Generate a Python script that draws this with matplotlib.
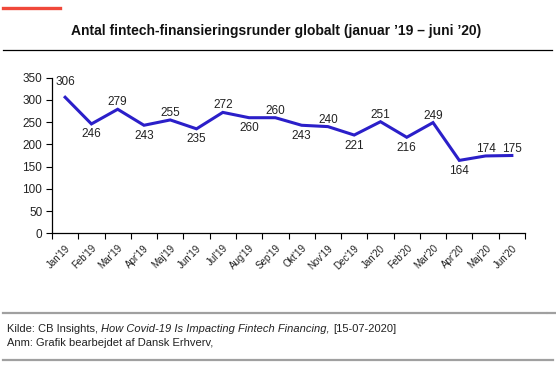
import matplotlib
matplotlib.use("Agg")
import matplotlib.pyplot as plt
from matplotlib.lines import Line2D
from matplotlib.transforms import ScaledTranslation

months = ["Jan'19", "Feb'19", "Mar'19", "Apr'19", "Maj'19", "Jun'19", "Jul'19", "Aug'19",
          "Sep'19", "Okt'19", "Nov'19", "Dec'19", "Jan'20", "Feb'20", "Mar'20", "Apr'20",
          "Maj'20", "Jun'20"]
values = [306, 246, 279, 243, 255, 235, 272, 260, 260, 243, 240, 221, 251, 216, 249, 164, 174, 175]
label_pos = ["top", "down", "up", "down", "up", "down", "up", "down", "up", "down", "up",
             "down", "up", "down", "up", "down", "up", "up"]
yticks = [0, 50, 100, 150, 200, 250, 300, 350]

W, H = 556, 370
plt.rcParams['font.family'] = ['Liberation Sans', 'DejaVu Sans']
fig = plt.figure(figsize=(W / 100, H / 100), dpi=100)
fig.canvas.draw()
r = fig.canvas.get_renderer()

def fx(px):
    return px / W

def fy(py):
    return 1 - py / H

# top red accent line
fig.add_artist(Line2D([fx(3), fx(60)], [fy(8), fy(8)], color="#f0483a", lw=2.4))
# title, fitted to reference width
title = fig.text(fx(276), fy(31.5),
                 "Antal fintech-finansieringsrunder globalt (januar \u201919 \u2013 juni \u201920)",
                 ha="center", va="center", fontsize=10, fontweight="bold", color="#111111")
tw = title.get_window_extent(r).width
title.set_fontsize(10 * 412 / tw)
# black line under title
fig.add_artist(Line2D([fx(3), fx(552)], [fy(50), fy(50)], color="black", lw=0.9))

# axes
left, right, top, bottom = 52, 525, 77.7, 233.3
ax = fig.add_axes([fx(left), fy(bottom), (right - left) / W, (bottom - top) / H])
x = list(range(len(months)))
ax.plot(x, values, color="#2b1fc9", lw=2.2, solid_joinstyle="miter")
ax.set_xlim(-0.5, len(months) - 0.5)
ax.set_ylim(0, 350)
ax.set_yticks(yticks)
ax.set_yticklabels([str(v) for v in yticks], fontsize=8.5, color="#222222")
ax.set_xticks(x)
ax.set_xticklabels(months, rotation=45, ha="right", rotation_mode="anchor", fontsize=7,
                   color="#222222")
shift = ScaledTranslation(3 / 100, 0, fig.dpi_scale_trans)
for lab in ax.get_xticklabels():
    lab.set_transform(lab.get_transform() + shift)
ax.tick_params(axis="x", which="major", length=0, pad=7)
ax.set_xticks([i - 0.5 for i in range(len(months) + 1)], minor=True)
ax.tick_params(axis="x", which="minor", length=4, width=0.8, direction="out")
ax.tick_params(axis="y", length=4, width=0.8, direction="out", pad=3)
for s in ["top", "right"]:
    ax.spines[s].set_visible(False)
for s in ["left", "bottom"]:
    ax.spines[s].set_linewidth(0.9)

offsets = {"top": 15, "up": 7, "down": -10.5}
for xi, v, p in zip(x, values, label_pos):
    ax.annotate(str(v), (xi, v), xytext=(0, offsets[p]), textcoords="offset pixels",
                ha="center", va="center", fontsize=8.5, color="#222222")

# grey lines and footnotes
fig.add_artist(Line2D([fx(3), fx(546)], [fy(312.5), fy(312.5)], color="#a0a0a0", lw=1.6))
fig.add_artist(Line2D([fx(548), fx(555)], [fy(312.5), fy(312.5)], color="#a0a0a0", lw=1.6))
fs = 8
t1 = fig.text(fx(7), fy(329.5), "Kilde: CB Insights, ", fontsize=fs, va="center", color="#222222")
b1 = t1.get_window_extent(r)
t2 = fig.text(b1.x1 / W, fy(329.5), "How Covid-19 Is Impacting Fintech Financing,", fontsize=fs,
              va="center", style="italic", color="#222222")
b2 = t2.get_window_extent(r)
fig.text(b2.x1 / W + fx(3), fy(329.5), "[15-07-2020]", fontsize=fs, va="center", color="#222222")
fig.text(fx(7), fy(343), "Anm: Grafik bearbejdet af Dansk Erhverv,", fontsize=fs, va="center",
         color="#222222")
fig.add_artist(Line2D([fx(3), fx(553)], [fy(360), fy(360)], color="#a0a0a0", lw=1.6))

fig.savefig("out.png", dpi=100)
